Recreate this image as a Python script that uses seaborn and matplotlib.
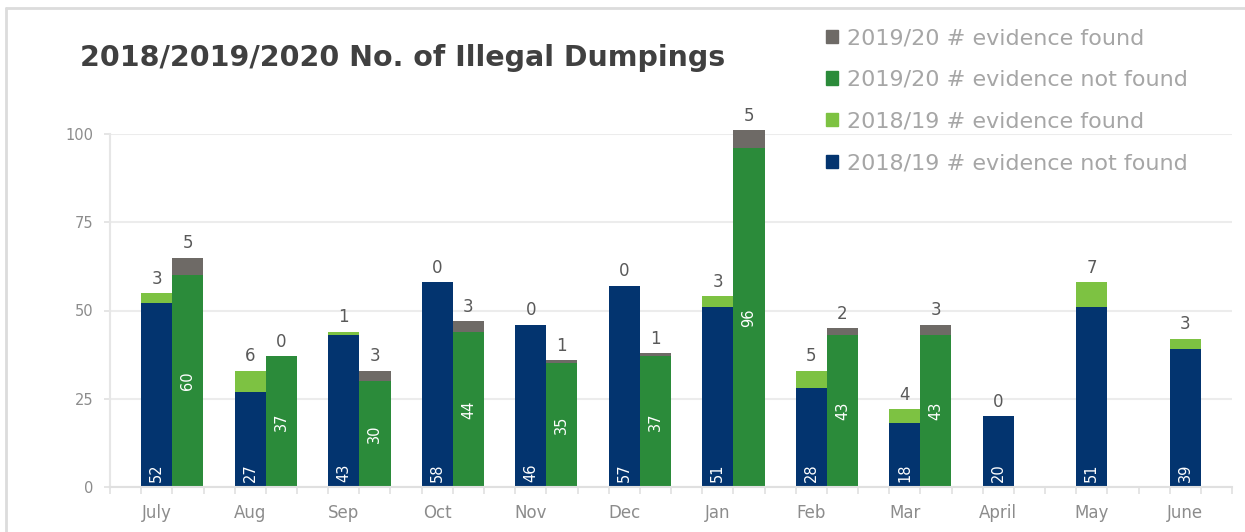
import pandas as pd
import numpy as np
import matplotlib
matplotlib.use('Agg')
import matplotlib.pyplot as plt
from matplotlib.patches import Patch
from matplotlib.lines import Line2D
import seaborn as sns

# Datos
meses = ['July', 'Aug', 'Sep', 'Oct', 'Nov', 'Dec', 'Jan', 'Feb', 'Mar', 'April', 'May', 'June']
no_enc_1819 = [52, 27, 43, 58, 46, 57, 51, 28, 18, 20, 51, 39]
enc_1819 = [3, 6, 1, 0, 0, 0, 3, 5, 4, 0, 7, 3]
no_enc_1920 = [60, 37, 30, 44, 35, 37, 96, 43, 43]
enc_1920 = [5, 0, 3, 3, 1, 1, 5, 2, 3]

etiquetas = ['2019/20 # evidence found', '2019/20 # evidence not found',
             '2018/19 # evidence found', '2018/19 # evidence not found']

col_navy = '#03346f'
col_verde = '#2b8b3a'
col_verde_cl = '#7dc242'
col_gris = '#6e6a66'

# Tres huecos por mes: vacio, 2018/19, 2019/20
slots = []
for m in meses:
    slots += [m + '_gap', m + '_1819', m + '_1920']

filas = []
for i, m in enumerate(meses):
    filas.append({'slot': m + '_1819', 'temporada': '2018/19',
                  'no_enc': no_enc_1819[i], 'total': no_enc_1819[i] + enc_1819[i]})
    if i < len(no_enc_1920):
        filas.append({'slot': m + '_1920', 'temporada': '2019/20',
                      'no_enc': no_enc_1920[i], 'total': no_enc_1920[i] + enc_1920[i]})
df = pd.DataFrame(filas)

sns.set_theme(style='white')
plt.rcParams['font.family'] = ['DejaVu Sans']

fig = plt.figure(figsize=(12.45, 5.32), dpi=100)
ax = fig.add_axes([110 / 1245, 45 / 532, 1122 / 1245, 353 / 532])

# Total (encontrado + no encontrado) primero, luego la parte "no encontrada" encima
sns.barplot(data=df, x='slot', y='total', hue='temporada', order=slots,
            palette={'2018/19': col_verde_cl, '2019/20': col_gris},
            dodge=False, width=1, saturation=1, errorbar=None, legend=False, ax=ax)
sns.barplot(data=df, x='slot', y='no_enc', hue='temporada', order=slots,
            palette={'2018/19': col_navy, '2019/20': col_verde},
            dodge=False, width=1, saturation=1, errorbar=None, legend=False, ax=ax)
for p in ax.patches:
    p.set_clip_on(False)
    p.set_linewidth(0)

# Etiquetas de datos
for i, m in enumerate(meses):
    x = slots.index(m + '_1819')
    ax.text(x, 1.5, str(no_enc_1819[i]), rotation=90, ha='center', va='bottom',
            color='white', fontsize=10.5)
    ax.text(x, no_enc_1819[i] + enc_1819[i] + 1.5, str(enc_1819[i]), ha='center',
            va='bottom', color='#595959', fontsize=12)
    if i < len(no_enc_1920):
        x2 = slots.index(m + '_1920')
        ax.text(x2, no_enc_1920[i] / 2, str(no_enc_1920[i]), rotation=90, ha='center',
                va='center', color='white', fontsize=10.5)
        ax.text(x2, no_enc_1920[i] + enc_1920[i] + 1.5, str(enc_1920[i]), ha='center',
                va='bottom', color='#595959', fontsize=12)

ax.set_xlim(-0.5, len(slots) - 0.5)
ax.set_ylim(0, 100)
ax.set_yticks([0, 25, 50, 75, 100])
ax.set_yticklabels(['0', '25', '50', '75', '100'])
ax.set_xticks([slots.index(m + '_1819') for m in meses])
ax.set_xticklabels(meses)
ax.set_xticks(np.arange(-0.5, len(slots), 1), minor=True)
ax.tick_params(axis='x', which='major', length=0, pad=12, labelsize=12, labelcolor='#8c8c8c')
ax.tick_params(axis='x', which='minor', length=5, width=1.2, color='#e0e0e0', bottom=True)
ax.tick_params(axis='y', length=4, width=1.2, color='#e0e0e0', labelsize=10.5,
               labelcolor='#8c8c8c', left=True, pad=8)
ax.set_xlabel('')
ax.set_ylabel('')
ax.yaxis.grid(True, color='#ececec', linewidth=1.5)
ax.set_axisbelow(True)
for s in ['top', 'right']:
    ax.spines[s].set_visible(False)
ax.spines['left'].set_color('#e6e6e6')
ax.spines['left'].set_linewidth(1.5)
ax.spines['bottom'].set_color('#e0e0e0')
ax.spines['bottom'].set_linewidth(1.5)

# Titulo y leyenda
fig.text(80 / 1245, 1 - 58 / 532, '2018/2019/2020 No. of Illegal Dumpings', ha='left',
         va='center', fontsize=20.5, fontweight='bold', color='#404040')

handles = [Patch(color=col_gris), Patch(color=col_verde),
           Patch(color=col_verde_cl), Patch(color=col_navy)]
fig.legend(handles, etiquetas, loc='upper left', bbox_to_anchor=(815 / 1245, 1 - 17 / 532),
           frameon=False, fontsize=16, labelcolor='#a6a6a6', handlelength=0.55,
           handleheight=0.55, handletextpad=0.4, labelspacing=0.98, borderpad=0)

# Marco del grafico
fig.add_artist(Line2D([6 / 1245, 1], [1 - 8 / 532, 1 - 8 / 532], color='#dcdcdc', lw=2))
fig.add_artist(Line2D([6 / 1245, 6 / 1245], [0, 1 - 8 / 532], color='#dcdcdc', lw=2))

plt.savefig('out.png', dpi=100)
plt.close()
